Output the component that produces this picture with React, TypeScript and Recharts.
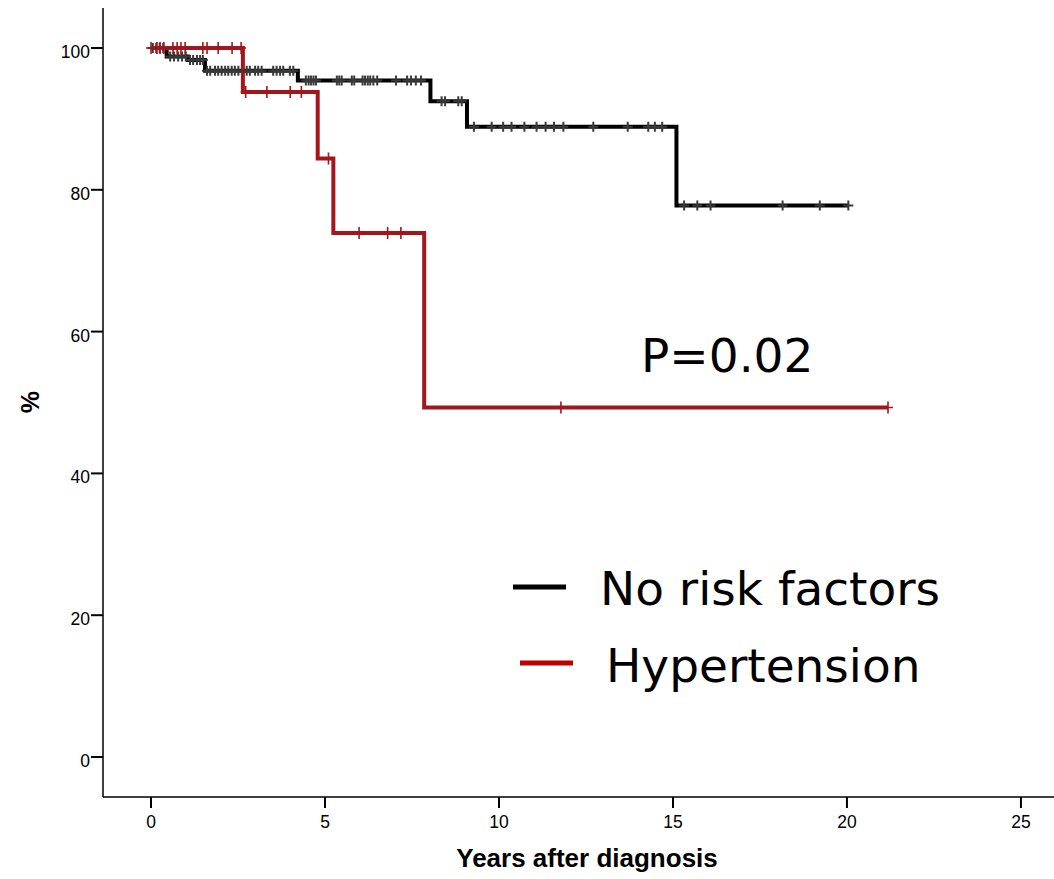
import { ComposedChart, Legend, Line, Scatter, XAxis, YAxis } from 'recharts'

const yearTicks = [0, 5, 10, 15, 20, 25]
const percentTicks = [0, 20, 40, 60, 80, 100]
const seriesNames = ['No risk factors', 'Hypertension']
const pValueText = 'P=0.02'

// Kaplan-Meier steps: time of each step, survival (%) from that time on
const noRiskTimes = [0, 0.45, 1.06, 1.55, 4.22, 8.03, 9.08, 15.1, 20.04]
const noRiskSurv = [100, 98.8, 98.3, 96.8, 95.4, 92.5, 88.9, 77.8, 77.8]
const htnTimes = [0, 2.64, 4.79, 5.24, 7.85, 21.18]
const htnSurv = [100, 93.8, 84.4, 73.9, 49.3, 49.3]

// censored cases, drawn as + marks on the curve
const noRiskCensored = [
  0.05, 0.15, 0.25, 0.35,
  0.55, 0.66, 0.78, 0.89, 1.0,
  1.12, 1.21, 1.32, 1.41, 1.49,
  1.61, 1.7, 1.84, 1.93, 2.03, 2.13, 2.22, 2.32, 2.41, 2.51, 2.75, 2.84, 2.99, 3.08, 3.18,
  3.51, 3.61, 3.71, 3.8, 3.99, 4.09,
  4.45, 4.53, 4.6, 4.67, 4.74, 5.34, 5.41, 5.48, 5.77, 5.84, 6.08, 6.15, 6.23, 6.3, 6.39,
  6.5, 7.04, 7.36, 7.47, 7.61, 7.76,
  8.35, 8.45, 8.83, 8.93,
  9.28, 9.79, 10.12, 10.36, 10.73, 11.08, 11.34, 11.58, 11.85, 12.71, 13.7, 14.29, 14.48, 14.69,
  15.32, 15.7, 16.08, 18.15, 19.22, 20.04,
]
const htnCensored = [
  0, 0.17, 0.26, 0.37, 0.63, 0.75, 0.86, 0.98, 1.49, 1.61, 1.93, 2.33, 2.59,
  2.72, 3.33, 4.0, 4.32,
  5.1,
  5.98, 6.8, 7.18,
  11.78, 21.18,
]

const BLACK = '#000000'
const RED = '#a3161c'
const LEGEND_RED = '#c00000'
const ARIAL = '"Liberation Sans", Arial, sans-serif'
const DEJAVU = '"DejaVu Sans", Verdana, sans-serif'

const toSteps = (times: number[], surv: number[]) => times.map((t, i) => ({ t, s: surv[i] }))

const survAt = (times: number[], surv: number[], t: number) => {
  let v = surv[0]
  times.forEach((tt, i) => {
    if (tt <= t) v = surv[i]
  })
  return v
}

const noRiskSteps = toSteps(noRiskTimes, noRiskSurv)
const htnSteps = toSteps(htnTimes, htnSurv)
const noRiskMarks = noRiskCensored.map((t) => ({ t, s: survAt(noRiskTimes, noRiskSurv, t) }))
const htnMarks = htnCensored.map((t) => ({ t, s: survAt(htnTimes, htnSurv, t) }))

const plusShape = (color: string, half: number, width: number) => (props: any) => {
  const { cx, cy } = props
  if (cx == null || cy == null) return <g />
  return (
    <path
      d={`M${cx - 5},${cy}h10M${cx},${cy - half}v${half * 2}`}
      stroke={color}
      strokeWidth={width}
      fill="none"
    />
  )
}

const XTick = (props: any) => {
  const { x, y, payload } = props
  return (
    <text x={x} y={y + 18} textAnchor="middle" fontFamily={ARIAL} fontSize={17.5} fill="#000">
      {payload.value}
    </text>
  )
}

const YTick = (props: any) => {
  const { x, y, payload } = props
  return (
    <text x={x + 1} y={y + 10} textAnchor="end" fontFamily={ARIAL} fontSize={17.5} fill="#000">
      {payload.value}
    </text>
  )
}

const LegendBox = () => (
  <svg width={460} height={140}>
    <line x1={13} x2={66} y1={27} y2={27} stroke={BLACK} strokeWidth={5} />
    <text x={100} y={45} fontFamily={DEJAVU} fontSize={47} fill="#000">
      {seriesNames[0]}
    </text>
    <line x1={20} x2={73} y1={103} y2={103} stroke={LEGEND_RED} strokeWidth={5} />
    <text x={106} y={122} fontFamily={DEJAVU} fontSize={47} fill="#000">
      {seriesNames[1]}
    </text>
  </svg>
)

export default function App() {
  return (
    <div style={{ position: 'absolute', left: 0, top: 0, width: 1054, height: 879, background: '#fff' }}>
      <ComposedChart width={1054} height={879} margin={{ top: 8, right: 0, bottom: 0, left: 0 }}>
        <XAxis
          type="number"
          dataKey="t"
          domain={[-1.38, 25.95]}
          ticks={yearTicks}
          allowDataOverflow
          height={82}
          tickSize={11}
          axisLine={{ stroke: '#000', strokeWidth: 1.5 }}
          tickLine={{ stroke: '#000', strokeWidth: 2 }}
          tick={<XTick />}
          label={{
            content: () => (
              <text x={587} y={867} textAnchor="middle" fontFamily={ARIAL} fontWeight="bold" fontSize={26} fill="#000">
                Years after diagnosis
              </text>
            ),
          }}
        />
        <YAxis
          type="number"
          dataKey="s"
          domain={[-5.64, 105.64]}
          ticks={percentTicks}
          allowDataOverflow
          width={103}
          tickSize={12}
          axisLine={{ stroke: '#000', strokeWidth: 1.5 }}
          tickLine={{ stroke: '#000', strokeWidth: 2 }}
          tick={<YTick />}
          label={{
            content: () => (
              <text
                x={30}
                y={402}
                textAnchor="middle"
                dominantBaseline="central"
                transform="rotate(-90 30 402)"
                fontFamily={ARIAL}
                fontWeight="bold"
                fontSize={25}
                fill="#000"
              >
                %
              </text>
            ),
          }}
        />
        <Line
          data={noRiskSteps}
          dataKey="s"
          name={seriesNames[0]}
          type="stepAfter"
          stroke={BLACK}
          strokeWidth={4}
          strokeLinejoin="miter"
          dot={false}
          activeDot={false}
          isAnimationActive={false}
        />
        <Scatter
          data={noRiskMarks}
          dataKey="s"
          legendType="none"
          shape={plusShape('#3a3a3a', 5, 2)}
          isAnimationActive={false}
        />
        <Line
          data={htnSteps}
          dataKey="s"
          name={seriesNames[1]}
          type="stepAfter"
          stroke={RED}
          strokeWidth={4}
          strokeLinejoin="miter"
          dot={false}
          activeDot={false}
          isAnimationActive={false}
        />
        <Scatter
          data={htnMarks}
          dataKey="s"
          legendType="none"
          shape={plusShape(RED, 6, 1.6)}
          isAnimationActive={false}
        />
        <Legend
          layout="horizontal"
          verticalAlign="middle"
          align="center"
          content={() => <LegendBox />}
          wrapperStyle={{ position: 'absolute', left: 500, top: 560, width: 460, height: 140 }}
        />
      </ComposedChart>
      <svg
        width={1054}
        height={879}
        style={{ position: 'absolute', left: 0, top: 0, pointerEvents: 'none' }}
      >
        <text x={641} y={372} fontFamily={DEJAVU} fontSize={47} fill="#000">
          {pValueText}
        </text>
      </svg>
    </div>
  )
}
